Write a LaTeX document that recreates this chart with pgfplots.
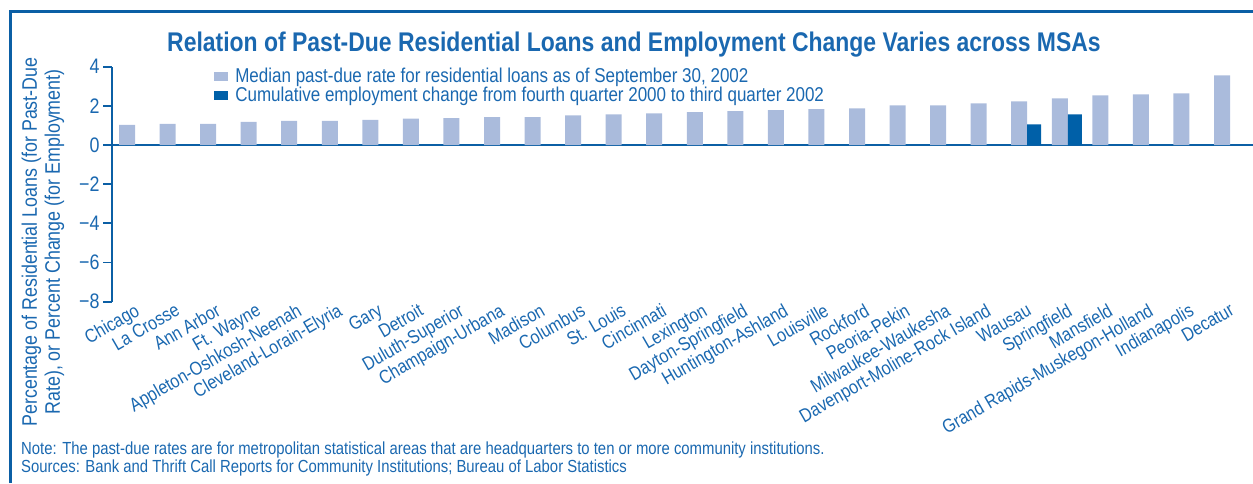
\documentclass[border=0pt]{standalone}
\usepackage{fontspec}
\setmainfont{Liberation Sans}[FakeStretch=0.85]
\usepackage{pgfplots}
\pgfplotsset{compat=1.18}

\definecolor{txtblue}{HTML}{1A68B0}
\definecolor{lineblue}{HTML}{0B5FA5}
\definecolor{lightbar}{HTML}{AABBDC}
\definecolor{darkbar}{HTML}{0060A8}

\begin{document}
\begin{tikzpicture}
\useasboundingbox (0,0) rectangle (1253pt,483pt);
% frame: top and left only
\draw[lineblue, line width=3pt] (10pt,0pt) -- (10pt,471pt) -- (1253pt,471pt);

\begin{axis}[
    at={(112pt,181.3pt)}, anchor=south west,
    scale only axis, width=1141pt, height=235pt,
    xmin=-0.555, xmax=27.58,
    ymin=-8, ymax=4,
    axis y line*=left, axis x line*=bottom,
    x axis line style={draw=none},
    y axis line style={lineblue, line width=1.8pt},
    x tick style={draw=none},
    ytick={-8,-6,-4,-2,0,2,4},
    yticklabels={−8,−6,−4,−2,0,2,4},
    y tick style={lineblue, line width=1.8pt},
    tick align=outside, major tick length=9pt,
    y tick label style={font=\fontsize{21}{22}\selectfont, text=txtblue},
    xtick={0,...,27},
    xticklabels={Chicago,La Crosse,Ann Arbor,Ft. Wayne,Appleton-Oshkosh-Neenah,Cleveland-Lorain-Elyria,Gary,Detroit,Duluth-Superior,Champaign-Urbana,Madison,Columbus,St. Louis,Cincinnati,Lexington,Dayton-Springfield,Huntington-Ashland,Louisville,Rockford,Peoria-Pekin,Milwaukee-Waukesha,Davenport-Moline-Rock Island,Wausau,Springfield,Mansfield,Grand Rapids-Muskegon-Holland,Indianapolis,Decatur},
    x tick label style={yshift=11pt, rotate=30, anchor=north east, font=\fontsize{19}{20}\selectfont, text=txtblue, inner sep=2pt},
    extra y ticks={0}, extra y tick labels={},
    extra y tick style={grid=major, major grid style={lineblue, line width=1.8pt}},
    legend style={at={(0.0895,1.0)}, anchor=north west, draw=none, fill=none,
        font=\fontsize{20}{22}\selectfont, text=txtblue, row sep=0pt,
        inner sep=0pt, nodes={inner xsep=7pt, inner ysep=1.5pt}},
    legend cell align=left,
    legend image code/.code={\fill[#1,draw=none] (0pt,-4.5pt) rectangle (14pt,4.5pt);},
    clip=false,
]
\addplot[ybar, bar width=16pt, bar shift=-7.5pt, fill=lightbar, draw=none] coordinates {
    (0,1.03) (1,1.08) (2,1.08) (3,1.18) (4,1.23) (5,1.23) (6,1.28) (7,1.35)
    (8,1.37) (9,1.42) (10,1.42) (11,1.52) (12,1.57) (13,1.62) (14,1.68)
    (15,1.73) (16,1.78) (17,1.83) (18,1.87) (19,2.02) (20,2.02) (21,2.13)
    (22,2.23) (23,2.38) (24,2.53) (25,2.59) (26,2.64) (27,3.56)
};
\addlegendentry{Median past-due rate for residential loans as of September 30, 2002}
\addplot[ybar, bar width=14pt, bar shift=7.5pt, fill=darkbar, draw=none] coordinates {
    (22,1.05) (23,1.57)
};
\addlegendentry{Cumulative employment change from fourth quarter 2000 to third quarter 2002}
\end{axis}

% title
\node[anchor=base, text=txtblue, font=\fontsize{27}{28}\selectfont\bfseries] at (634pt,431pt)
    {Relation of Past-Due Residential Loans and Employment Change Varies across MSAs};
% y label
\node[rotate=90, align=center, text=txtblue, font=\fontsize{21}{23}\selectfont] at (43pt,241pt)
    {Percentage of Residential Loans (for Past-Due\\Rate), or Percent Change (for Employment)};
% note
\node[anchor=base west, text=txtblue, font=\fontsize{17.5}{19}\selectfont, inner sep=0pt] at (21pt,29pt)
    {Note: The past-due rates are for metropolitan statistical areas that are headquarters to ten or more community institutions.};
\node[anchor=base west, text=txtblue, font=\fontsize{17.5}{19}\selectfont, inner sep=0pt] at (21pt,11pt)
    {Sources: Bank and Thrift Call Reports for Community Institutions; Bureau of Labor Statistics};
\end{tikzpicture}
\end{document}
